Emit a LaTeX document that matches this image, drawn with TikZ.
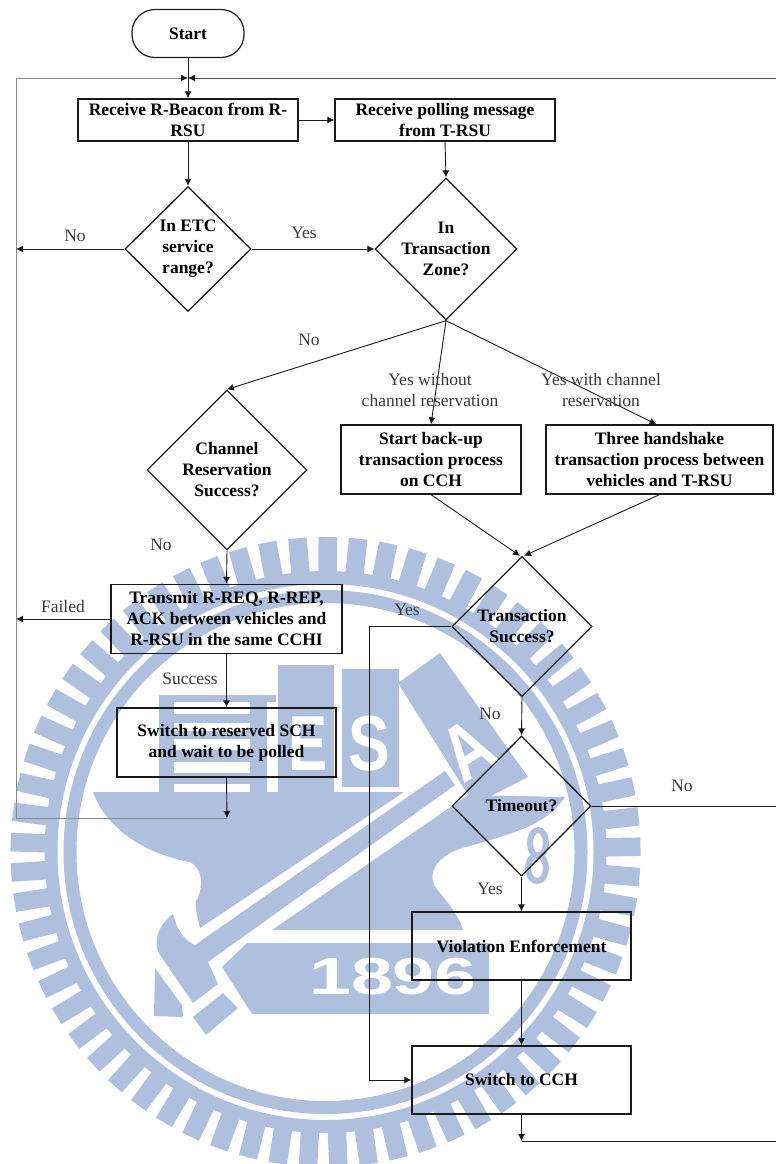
\documentclass[tikz,border=0pt]{standalone}
\usepackage{fontspec}
\setmainfont{Liberation Serif}
\newfontfamily\logofont{Liberation Sans}[Scale=1.0]
\usetikzlibrary{arrows.meta, shapes.geometric}
\definecolor{cLogo}{HTML}{AFC0DE}
\definecolor{cLine}{HTML}{1A1A1A}
\definecolor{cLoop}{HTML}{7F9082}
\definecolor{cLbl}{HTML}{3A3A3A}

\begin{document}
\begin{tikzpicture}[
    x=1pt, y=-1pt,
    txt/.style={font=\fontsize{17.5}{21}\selectfont\bfseries, align=center, text=black},
    blk/.style={txt, draw=cLine, line width=1.3pt, rectangle, inner sep=0pt},
    dec/.style={txt, draw=cLine, line width=1.3pt, diamond, aspect=1, inner sep=0pt},
    term/.style={txt, draw=cLine, line width=1.2pt, rounded corners=23pt, inner sep=0pt,
                 minimum width=112pt, minimum height=48pt},
    lbl/.style={font=\fontsize{17.5}{21}\selectfont, align=center, text=cLbl, inner sep=0pt},
    sig/.style={-{Latex[length=7pt, width=7pt, color=cLine]}, line width=0.9pt, cLine},
    loopsig/.style={sig, cLoop, line width=1pt},
    logo/.style={fill=cLogo, draw=none},
    sealtxt/.style={text=white, inner sep=0pt, transform shape},
]
\clip (0,0) rectangle (776,1164);

% ===========================================================================
% Watermark seal
% ===========================================================================
\foreach \a in {0,...,64} {
    \draw[cLogo, line width=18.5pt] (325.5,852) ++({181.8+\a*5.53846}:280) -- ++({181.8+\a*5.53846}:35);
}
\fill[logo, even odd rule] (325.5,852) circle[radius=281] (325.5,852) circle[radius=268];
\fill[logo, even odd rule] (325.5,852) circle[radius=262] (325.5,852) circle[radius=249];

% ----- Striped letter and panels -----
\fill[logo] (159,695) rectangle (174,793);
\fill[logo] (159,695) rectangle (276,702);
\fill[logo] (250,695) rectangle (267,793);
\foreach \y/\h in {714/9, 731/8, 750/12, 773/11} {
    \fill[logo] (174,\y) rectangle (250,\y+\h);
}
\fill[logo] (278,665) rectangle (334,796);
\fill[logo] (342,669) rectangle (399,787);
\fill[logo] (398,683) -- (440,653) -- (528,777) -- (483,800) -- (468,795) -- cycle;
\node[sealtxt, font=\logofont\bfseries\fontsize{78}{78}\selectfont, xscale=0.75] (letE) at (308,744) {E};
\node[sealtxt, font=\logofont\bfseries\fontsize{78}{78}\selectfont, xscale=0.8] (letS) at (369,744) {S};
\node[sealtxt, font=\logofont\bfseries\fontsize{78}{78}\selectfont, rotate=33, xscale=0.8] (letA) at (468,750) {A};

% ----- Anvil, hammer, year plate -----
\fill[logo] (93,792) -- (404,792) -- (200,928) .. controls (196,912) and (194,900) .. (197,900)
    .. controls (204,884) and (202,868) .. (190,862) .. controls (140,853) and (105,825) .. (93,792) -- cycle;
\fill[logo] (272,930) -- (468,795) -- (565,797) .. controls (548,822) and (525,830) .. (470,846)
    .. controls (440,852) and (425,872) .. (436,888) .. controls (450,905) and (460,918) .. (463,930) -- cycle;
\fill[logo] (173,914) .. controls (177,930) and (184,940) .. (195,945) -- (445,771) -- (455,785)
    -- (208,962) -- (218,984) -- (193,1003) -- (160,955) .. controls (152,943) and (158,925) .. (173,914) -- cycle;
\fill[logo] (193,1017) -- (223,993) -- (238,1008) -- (206,1035) -- cycle;
\fill[logo] (155,968) -- (182,1005) -- (183,1017) -- (154,1016) -- cycle;
\fill[logo] (247,943) -- (489,943) -- (489,1014) -- (252,1014) -- (222,967) -- cycle;
\node[sealtxt, font=\logofont\bfseries\fontsize{52}{52}\selectfont, xscale=1.45] (year) at (393,977) {1896};
\draw[cLogo, line width=6pt] (538,843) ellipse[x radius=8, y radius=13];
\draw[cLogo, line width=6pt] (537,868) ellipse[x radius=9, y radius=13];

% ===========================================================================
% Flow chart
% ===========================================================================
\node[term] (start) at (188,33.5) {Start};
\node[blk, minimum width=220pt, minimum height=42pt] (beacon) at (188,120) {Receive R-Beacon from R-\\RSU};
\node[blk, minimum width=220pt, minimum height=42pt] (poll) at (445,120) {Receive polling message\\from T-RSU};
\node[dec, minimum width=126pt, minimum height=125pt] (etc) at (188,249) {In ETC\\service\\range?};
\node[dec, minimum width=142pt, minimum height=142pt] (zone) at (446,249) {In\\\makebox[0pt]{Transaction}\\Zone?};
\node[dec, minimum width=160pt, minimum height=160pt] (resv) at (227,470) {Channel\\Reservation\\Success?};
\node[blk, minimum width=180pt, minimum height=69pt] (backup) at (431,459.5) {Start back-up\\transaction process\\on CCH};
\node[blk, minimum width=227pt, minimum height=69pt] (hand) at (659.5,459.5) {Three handshake\\transaction process between\\vehicles and T-RSU};
\node[blk, minimum width=231pt, minimum height=69pt] (trans) at (226.5,619) {Transmit R-REQ, R-REP,\\ACK between vehicles and\\R-RSU in the same CCHI};
\node[blk, minimum width=219pt, minimum height=69pt] (wait) at (226.5,742.5) {Switch to reserved SCH\\and wait to be polled};
\node[dec, minimum width=140pt, minimum height=140pt] (succ) at (522,626.5) {Transaction\\Success?};
\node[dec, minimum width=139pt, minimum height=140pt] (tout) at (521.5,806) {Timeout?};
\node[blk, minimum width=219pt, minimum height=68pt] (viol) at (521.5,946) {Violation Enforcement};
\node[blk, minimum width=219pt, minimum height=68pt] (cch) at (521.5,1080) {Switch to CCH};

% ----- Loop and exit points -----
\coordinate (joinT) at (188,78);
\coordinate (cornT) at (16,78);
\coordinate (edgeT) at (776,78);
\coordinate (cornB) at (16,818);
\coordinate (joinB) at (227,818);
\coordinate (sideE) at (16,249);
\coordinate (sideF) at (16,619);
\coordinate (edgeN) at (776,806);
\coordinate (joinC) at (521.5,1141);
\coordinate (edgeC) at (776,1141);
\coordinate (turnY) at (369,626.5);

% ----- Connectors -----
\draw[sig] (start) -- (beacon);
\draw[loopsig] (cornB) -- (cornT) -- (joinT);
\draw[sig, line width=1pt, cLoop!60!black] (edgeT) -- (joinT);
\draw[sig] (beacon) -- (poll);
\draw[sig] (beacon) -- (etc);
\draw[sig] (poll.south) -- (zone.north);
\draw[sig] (etc.west) -- (sideE);
\draw[sig] (etc.east) -- (zone.west);
\draw[sig] (zone.south) -- (resv.north);
\draw[sig] (zone.south) -- (backup.north);
\draw[sig] (zone.south) -- ([xshift=-3pt]hand.north);
\draw[sig] (backup.south) -- ([xshift=-2pt]succ.north);
\draw[sig] (hand.south) -- ([xshift=2pt]succ.north);
\draw[sig] (resv.south) -- (trans.north);
\draw[sig] (trans.west) -- (sideF);
\draw[sig] (trans.south) -- (wait.north);
\draw[loopsig, -] (cornB) -- (joinB);
\draw[sig] (wait.south) -- (joinB);
\draw[sig] (succ.south) -- (tout.north);
\draw[sig] (succ.west) -- (turnY) |- (cch.west);
\draw[sig, -] (tout.east) -- (edgeN);
\draw[sig] (tout.south) -- (viol.north);
\draw[sig] (viol.south) -- (cch.north);
\draw[sig, -] (joinC) -- (edgeC);
\draw[sig] (cch.south) -- (joinC);

% ----- Labels -----
\node[lbl] (noA) at (75,235.5) {No};
\node[lbl] (yesA) at (304,232.5) {Yes};
\node[lbl] (noB) at (309,339.5) {No};
\node[lbl] (yesB) at (430,390) {Yes without\\channel reservation};
\node[lbl] (yesC) at (601,390) {Yes with channel\\reservation};
\node[lbl] (noC) at (161,544.5) {No};
\node[lbl] (fail) at (63,606.5) {Failed};
\node[lbl] (okay) at (190,678.5) {Success};
\node[lbl] (yesD) at (407,609.5) {Yes};
\node[lbl] (noD) at (490,713.5) {No};
\node[lbl] (noE) at (682,785.5) {No};
\node[lbl] (yesE) at (490,888.5) {Yes};

\end{tikzpicture}
\end{document}
